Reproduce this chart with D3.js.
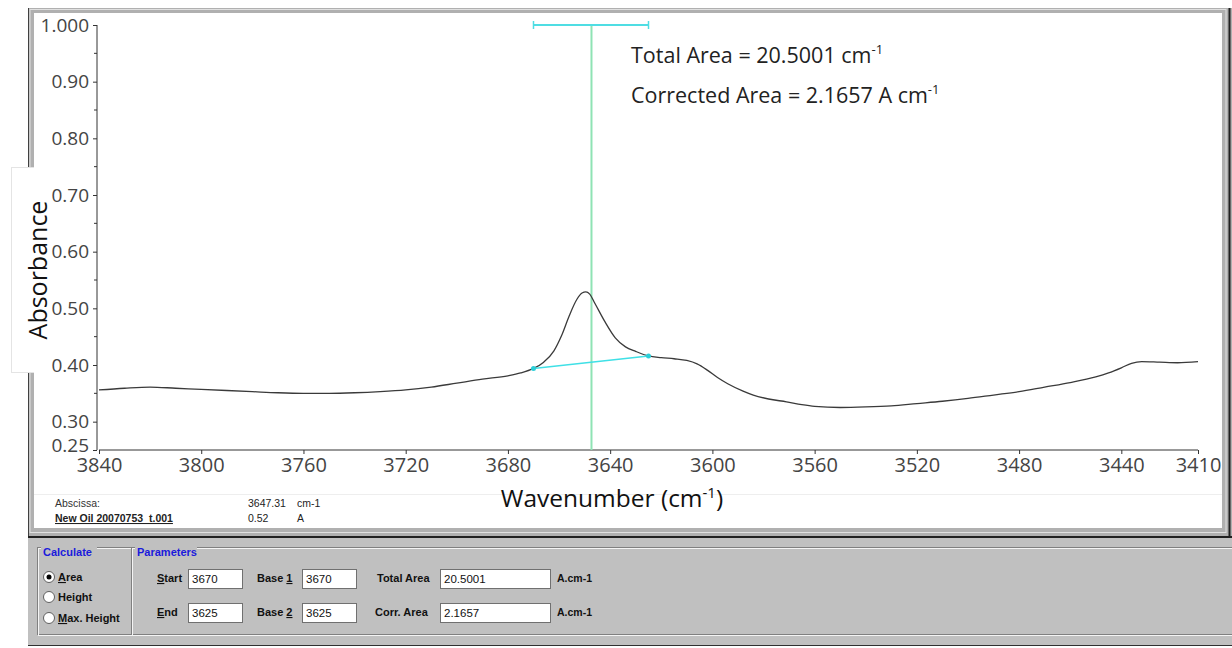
<!DOCTYPE html>
<html>
<head>
<meta charset="utf-8">
<script src="https://cdn.jsdelivr.net/npm/d3@7"></script>
<style>
  body { margin: 0; background: #fff; }
  svg { display: block; }
  .axis text { font-family: "Open Sans", sans-serif; fill: #444; }
  .axis path, .axis line { stroke: #333; }
  .ui { font-family: "Liberation Sans", Arial, sans-serif; }
</style>
</head>
<body>
<div class="chart"></div>
<script>
// spectrum
const wavenumber = [3840, 3830, 3820, 3810, 3800, 3790, 3780, 3770, 3760, 3750, 3740, 3730, 3720, 3710,
  3700, 3690, 3680, 3675, 3670, 3666, 3662, 3659, 3656, 3653, 3651, 3649.5, 3648, 3646, 3642, 3638, 3634, 3630,
  3625, 3620, 3615, 3610, 3606, 3602, 3598, 3594, 3588, 3584, 3578, 3571, 3565, 3560, 3550, 3540,
  3530, 3520, 3510, 3500, 3490, 3480, 3470, 3460, 3450, 3445, 3440, 3436, 3432, 3425, 3418, 3410];
const absorbance = [0.356, 0.359, 0.361, 0.359, 0.357, 0.355, 0.353, 0.351, 0.350, 0.350, 0.351, 0.353, 0.356, 0.361,
  0.368, 0.375, 0.381, 0.386, 0.394, 0.405, 0.425, 0.452, 0.487, 0.516, 0.527, 0.529, 0.525, 0.509, 0.476, 0.448, 0.432, 0.424,
  0.416, 0.413, 0.411, 0.408, 0.402, 0.391, 0.378, 0.367, 0.354, 0.347, 0.340, 0.335, 0.330, 0.327, 0.325, 0.326,
  0.328, 0.332, 0.336, 0.341, 0.347, 0.353, 0.361, 0.369, 0.379, 0.386, 0.395, 0.403, 0.406, 0.405, 0.404, 0.406];

const xTicks = [3840, 3800, 3760, 3720, 3680, 3640, 3600, 3560, 3520, 3480, 3440, 3410];
const yTicks = [1.0, 0.9, 0.8, 0.7, 0.6, 0.5, 0.4, 0.3, 0.25];
const yTickLabels = ["1.000", "0.90", "0.80", "0.70", "0.60", "0.50", "0.40", "0.30", "0.25"];
const yMinor = [0.95, 0.85, 0.75, 0.65, 0.55, 0.45, 0.35];

// integration limits, baseline points and cursor
const limits = [3670, 3625];
const baseline = [{w: 3670, a: 0.394}, {w: 3625, a: 0.416}];
const cursor = {w: 3647.31, a: 0.52};
const totalArea = "20.5001";
const corrArea = "2.1657";

const W = 1232, H = 648;
const svg = d3.select(".chart").append("svg")
  .attr("width", W).attr("height", H);

// window frame
svg.append("rect").attr("x", 28).attr("y", 8).attr("width", 1204).attr("height", 532).attr("fill", "#b0b0b0");
svg.append("rect").attr("x", 30).attr("y", 9.5).attr("width", 1196).attr("height", 523).attr("fill", "none")
  .attr("stroke", "#e0e0e0").attr("stroke-width", 1);
svg.append("rect").attr("x", 34).attr("y", 13).attr("width", 1188).attr("height", 515).attr("fill", "#fff");
svg.append("line").attr("x1", 28.5).attr("x2", 28.5).attr("y1", 8).attr("y2", 646).attr("stroke", "#404040");
svg.append("line").attr("x1", 1229.5).attr("x2", 1229.5).attr("y1", 8).attr("y2", 537).attr("stroke", "#202020").attr("stroke-width", 2);
svg.append("line").attr("x1", 34).attr("x2", 1222).attr("y1", 494.5).attr("y2", 494.5).attr("stroke", "#eeeeee");

// parameter panel
svg.append("rect").attr("x", 28).attr("y", 538).attr("width", 1204).attr("height", 108).attr("fill", "#c0c0c0");
svg.append("line").attr("x1", 28).attr("x2", 1232).attr("y1", 537).attr("y2", 537).attr("stroke", "#202020").attr("stroke-width", 2);
svg.append("line").attr("x1", 28).attr("x2", 1232).attr("y1", 645.5).attr("y2", 645.5).attr("stroke", "#303030");

const margin = {left: 99, right: 1198, top: 25, bottom: 450};
const x = d3.scaleLinear().domain([3840, 3410]).range([margin.left, margin.right]);
const y = d3.scaleLinear().domain([0.25, 1.0]).range([margin.bottom, margin.top]);

// y label box
svg.append("rect").attr("x", 11.5).attr("y", 167.5).attr("width", 60).attr("height", 205)
  .attr("fill", "#fff").attr("stroke", "#e4e4e4");
svg.append("rect").attr("x", 34).attr("y", 166).attr("width", 50).attr("height", 208).attr("fill", "#fff");

svg.append("text")
  .attr("transform", "translate(47, 270) rotate(-90)")
  .attr("text-anchor", "middle")
  .attr("font-family", "Open Sans, sans-serif")
  .attr("font-size", 25)
  .attr("fill", "#111")
  .text("Absorbance");

// axes
const xAxis = d3.axisBottom(x).tickValues(xTicks).tickSize(4).tickPadding(4).tickFormat(d3.format("d"));
svg.append("g").attr("class", "axis x-axis")
  .attr("transform", `translate(0, ${margin.bottom})`)
  .call(xAxis)
  .call(g => g.select(".domain").attr("d", `M${margin.left},0H${margin.right}`))
  .selectAll("text").attr("font-size", 20);

const yAxis = d3.axisLeft(y).tickValues(yTicks).tickSize(4).tickPadding(4)
  .tickFormat((d, i) => yTickLabels[i]);
svg.append("g").attr("class", "axis y-axis")
  .attr("transform", `translate(${margin.left - 2}, 0)`)
  .call(yAxis)
  .call(g => g.select(".domain").attr("d", `M0,${margin.top}V${margin.bottom}`))
  .call(g => g.selectAll("text").attr("font-size", 19))
  .call(g => g.selectAll(".tick").filter(d => d === 0.25).select("text").attr("dy", "0.1em"));

svg.append("g").attr("transform", `translate(${margin.left - 2}, 0)`)
  .selectAll("line").data(yMinor).join("line")
  .attr("x1", -3).attr("x2", 0)
  .attr("y1", d => y(d)).attr("y2", d => y(d))
  .attr("stroke", "#333");

// cursor line
svg.append("line")
  .attr("x1", x(cursor.w)).attr("x2", x(cursor.w))
  .attr("y1", y(1.0)).attr("y2", y(0.25))
  .attr("stroke", "#8fe3b4").attr("stroke-width", 2);

// integration range bar on top
const barY = y(1.0);
svg.append("line").attr("x1", x(limits[0])).attr("x2", x(limits[1]))
  .attr("y1", barY).attr("y2", barY).attr("stroke", "#4fdde3").attr("stroke-width", 2);
svg.selectAll(".cap").data(limits).join("line").attr("class", "cap")
  .attr("x1", d => x(d)).attr("x2", d => x(d))
  .attr("y1", barY - 4).attr("y2", barY + 4)
  .attr("stroke", "#4fdde3").attr("stroke-width", 1.5);

// spectrum
const spectrum = wavenumber.map((w, i) => ({w: w, a: absorbance[i]}));
const line = d3.line().x(d => x(d.w)).y(d => y(d.a)).curve(d3.curveMonotoneX);
svg.append("path").datum(spectrum)
  .attr("d", line)
  .attr("fill", "none")
  .attr("stroke", "#3a3a3a")
  .attr("stroke-width", 1.3);

// baseline
svg.append("line")
  .attr("x1", x(baseline[0].w)).attr("y1", y(baseline[0].a))
  .attr("x2", x(baseline[1].w)).attr("y2", y(baseline[1].a))
  .attr("stroke", "#3fe0e6").attr("stroke-width", 1.5);
svg.selectAll(".bp").data(baseline).join("circle").attr("class", "bp")
  .attr("cx", d => x(d.w)).attr("cy", d => y(d.a)).attr("r", 2.5)
  .attr("fill", "#2ccfd8");

// area annotations
function supText(xx, yy, main, sup) {
  const t = svg.append("text").attr("x", xx).attr("y", yy)
    .attr("font-family", "Open Sans, sans-serif").attr("font-size", 21.5).attr("fill", "#222");
  t.append("tspan").text(main);
  t.append("tspan").attr("dy", -9).attr("font-size", 13).text(sup);
  return t;
}
supText(631, 63, `Total Area = ${totalArea} cm`, "-1");
supText(631, 103, `Corrected Area = ${corrArea} A cm`, "-1");

const xl = svg.append("text").attr("x", 612).attr("y", 507)
  .attr("text-anchor", "middle")
  .attr("font-family", "Open Sans, sans-serif").attr("font-size", 24.5).attr("fill", "#111");
xl.append("tspan").text("Wavenumber (cm");
xl.append("tspan").attr("dy", -9).attr("font-size", 15).text("-1");
xl.append("tspan").attr("dy", 9).text(")");

// info strip
const info = svg.append("g").attr("class", "ui").attr("font-size", 10.5).attr("fill", "#222");
info.append("text").attr("x", 55).attr("y", 507).attr("fill", "#333").text("Abscissa:");
info.append("text").attr("x", 55).attr("y", 522).attr("font-weight", "bold")
  .attr("text-decoration", "underline").text("New Oil 20070753_t.001");
info.append("text").attr("x", 248).attr("y", 507).text(cursor.w.toFixed(2));
info.append("text").attr("x", 297).attr("y", 507).text("cm-1");
info.append("text").attr("x", 248).attr("y", 522).text(cursor.a.toFixed(2));
info.append("text").attr("x", 297).attr("y", 522).text("A");

// group boxes
function groupBox(x0, x1, label, labelW) {
  const g = svg.append("g");
  g.append("rect").attr("x", x0 + 0.5).attr("y", 547.5).attr("width", x1 - x0).attr("height", 87)
    .attr("fill", "none").attr("stroke", "#808080");
  g.append("rect").attr("x", x0 + 1.5).attr("y", 548.5).attr("width", x1 - x0).attr("height", 87)
    .attr("fill", "none").attr("stroke", "#f4f4f4");
  g.append("rect").attr("x", x0 + 4).attr("y", 543).attr("width", labelW).attr("height", 10).attr("fill", "#c0c0c0");
  g.append("text").attr("class", "ui").attr("x", x0 + 6).attr("y", 556)
    .attr("font-size", 11).attr("font-weight", "bold").attr("fill", "#1a1adc").text(label);
}
groupBox(37, 131, "Calculate", 56);
groupBox(131, 1240, "Parameters", 62);

// text with one underlined access-key letter
function keyText(parent, xx, yy, str, k) {
  const t = parent.append("text").attr("x", xx).attr("y", yy);
  t.append("tspan").text(str.slice(0, k));
  t.append("tspan").attr("text-decoration", "underline").text(str[k]);
  t.append("tspan").text(str.slice(k + 1));
  return t;
}

// radio buttons
const radios = ["Area", "Height", "Max. Height"];
const radioKey = [0, 3, 0];
const ry = [577, 597, 618];
const ui = svg.append("g").attr("class", "ui").attr("font-size", 11).attr("font-weight", "bold").attr("fill", "#111");
radios.forEach((r, i) => {
  ui.append("circle").attr("cx", 49).attr("cy", ry[i]).attr("r", 5.5)
    .attr("fill", "#fff").attr("stroke", "#606060");
  if (i === 0) ui.append("circle").attr("cx", 49).attr("cy", ry[i]).attr("r", 2.5).attr("fill", "#000");
  keyText(ui, 58, ry[i] + 4, r, radioKey[i]);
});

// fields
const fieldLabels = [["Start", "End"], ["Base 1", "Base 2"], ["Total Area", "Corr. Area"]];
const fieldKeys = [[0, 0], [5, 5], [-1, -1]];
const fieldValues = [["3670", "3625"], ["3670", "3625"], [totalArea, corrArea]];
const labelX = [[157, 157], [257, 257], [377, 375]];
const boxX = [188, 302, 440];
const boxW = [54, 54, 110];
const rowY = [569, 603];
fieldLabels.forEach((col, c) => {
  col.forEach((lab, r) => {
    if (fieldKeys[c][r] >= 0) keyText(ui, labelX[c][r], rowY[r] + 13, lab, fieldKeys[c][r]);
    else ui.append("text").attr("x", labelX[c][r]).attr("y", rowY[r] + 13).text(lab);
    ui.append("rect").attr("x", boxX[c] + 0.5).attr("y", rowY[r] + 0.5).attr("width", boxW[c]).attr("height", 19)
      .attr("fill", "#fff").attr("stroke", "#707070");
    ui.append("text").attr("x", boxX[c] + 4).attr("y", rowY[r] + 14)
      .attr("font-weight", "normal").attr("font-size", 11.5).text(fieldValues[c][r]);
  });
});
["A.cm-1", "A.cm-1"].forEach((u, r) => {
  ui.append("text").attr("x", 557).attr("y", rowY[r] + 13).attr("font-size", 10.5).text(u);
});
</script>
</body>
</html>
